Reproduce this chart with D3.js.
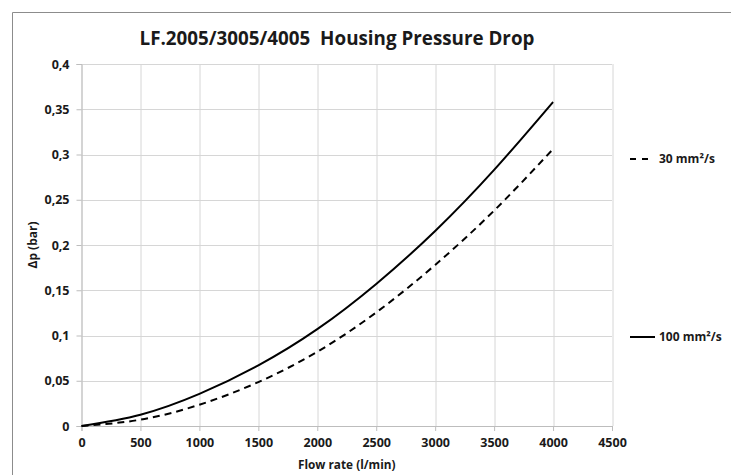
<!DOCTYPE html>
<html>
<head>
<meta charset="utf-8">
<script src="https://cdn.jsdelivr.net/npm/d3@7"></script>
<style>
  body { margin: 0; background: #fff; }
  text { font-family: "Open Sans", "DejaVu Sans", sans-serif; font-weight: bold; fill: #1a1a1a; }
</style>
</head>
<body>
<div id="chart"></div>
<script>
// values
const flow = [0, 500, 1000, 1500, 2000, 2500, 3000, 3500, 4000];
const visc100 = [0, 0.0125, 0.0355, 0.067, 0.107, 0.157, 0.2155, 0.283, 0.358];
const visc30 = [0, 0.007, 0.0235, 0.0485, 0.082, 0.1255, 0.178, 0.238, 0.306];
const xTicks = [0, 500, 1000, 1500, 2000, 2500, 3000, 3500, 4000, 4500];
const yTicks = [0, 0.05, 0.1, 0.15, 0.2, 0.25, 0.3, 0.35, 0.4];
const seriesNames = ['30 mm²/s', '100 mm²/s'];

const W = 731, H = 475;
const margin = { top: 64, right: 119, bottom: 49, left: 81.5 };
const width = W - margin.left - margin.right,
    height = H - margin.top - margin.bottom;

let svg = d3.select('#chart').append('svg')
    .attr('width', W)
    .attr('height', H);

// outer frame (only top and left visible)
svg.append('path')
    .attr('d', 'M12.5,' + H + 'V12.5H' + W)
    .attr('fill', 'none')
    .attr('stroke', '#8c8c8c')
    .attr('stroke-width', 1);

let main = svg.append('g')
    .attr('transform', 'translate(' + margin.left + ',' + margin.top + ')');

let x = d3.scaleLinear().domain([0, 4500]).range([0, width]);
let y = d3.scaleLinear().domain([0, 0.4]).range([height, 0]);

const fmt = d => String(+d.toFixed(2)).replace('.', ',');

// gridlines
main.append('g').selectAll('line').data(xTicks).enter().append('line')
    .attr('x1', d => Math.round(x(d)) + 0.5).attr('x2', d => Math.round(x(d)) + 0.5)
    .attr('y1', 0).attr('y2', height)
    .attr('stroke', '#d6d6d6');
main.append('g').selectAll('line').data(yTicks).enter().append('line')
    .attr('y1', d => Math.round(y(d)) + 0.5).attr('y2', d => Math.round(y(d)) + 0.5)
    .attr('x1', 0).attr('x2', width)
    .attr('stroke', '#d6d6d6');

// x axis
let xAxis = d3.axisBottom(x).tickValues(xTicks).tickFormat(d3.format('d'))
    .tickSize(5).tickPadding(7);
let gx = main.append('g')
    .attr('transform', 'translate(0,' + height + ')')
    .call(xAxis);
gx.selectAll('text').attr('font-size', 12.5).attr('dy', '0.71em');

// y axis
let yAxis = d3.axisLeft(y).tickValues(yTicks).tickFormat(fmt)
    .tickSize(5).tickPadding(7);
let gy = main.append('g').call(yAxis);
gy.selectAll('text').attr('font-size', 12.5);

main.selectAll('.domain, .tick line').attr('stroke', '#bdbdbd');

// curves
let line = d3.line()
    .x(d => x(d[0]))
    .y(d => y(d[1]))
    .curve(d3.curveNatural);

main.append('path')
    .datum(flow.map((f, i) => [f, visc100[i]]))
    .attr('d', line)
    .attr('fill', 'none')
    .attr('stroke', '#000')
    .attr('stroke-width', 2);

main.append('path')
    .datum(flow.map((f, i) => [f, visc30[i]]))
    .attr('d', line)
    .attr('fill', 'none')
    .attr('stroke', '#000')
    .attr('stroke-width', 2)
    .attr('stroke-dasharray', '7,5');

// legend
let legend = svg.append('g');
let legendY = [159, 337];
legend.selectAll('line').data(seriesNames).enter().append('line')
    .attr('x1', 630).attr('x2', (d, i) => i == 0 ? 649 : 655)
    .attr('y1', (d, i) => legendY[i]).attr('y2', (d, i) => legendY[i])
    .attr('stroke', '#000')
    .attr('stroke-width', 2)
    .attr('stroke-dasharray', (d, i) => i == 0 ? '6,6' : null);
legend.selectAll('text').data(seriesNames).enter().append('text')
    .attr('x', 659).attr('y', (d, i) => legendY[i])
    .attr('dy', '0.35em')
    .attr('font-size', 12)
    .text(d => d);

// title
let title = svg.append('text')
    .attr('x', 337).attr('y', 38)
    .attr('text-anchor', 'middle')
    .attr('dy', '0.35em')
    .attr('font-size', 19)
    .text('LF.2005/3005/4005  Housing Pressure Drop')
    .style('white-space', 'pre');
let tw = title.node().getComputedTextLength();
title.attr('font-size', 19 * 395 / tw);

// axis titles
svg.append('text')
    .attr('x', margin.left + width / 2).attr('y', 465)
    .attr('text-anchor', 'middle')
    .attr('dy', '0.35em')
    .attr('font-size', 11.8)
    .text('Flow rate (l/min)');

svg.append('text')
    .attr('transform', 'translate(33,' + (margin.top + height / 2) + ') rotate(-90)')
    .attr('text-anchor', 'middle')
    .attr('dy', '0.35em')
    .attr('font-size', 12)
    .text('Δp (bar)');
</script>
</body>
</html>
